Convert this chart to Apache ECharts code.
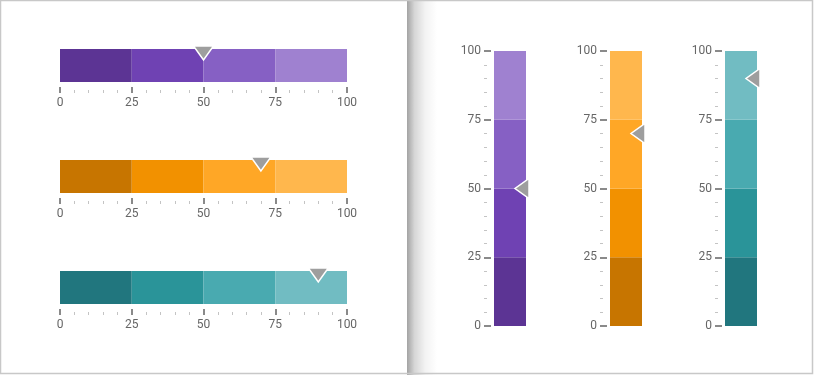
<!DOCTYPE html>
<html>
<head>
<meta charset="utf-8">
<script src="https://cdn.jsdelivr.net/npm/echarts@6/dist/echarts.min.js"></script>
<style>
html,body{margin:0;padding:0;background:#fff;}
#c{width:814px;height:375px;}
</style>
</head>
<body>
<div id="c"></div>
<script>
// ---- data ----
const gaugeNames = ['Purple', 'Orange', 'Teal'];
const bandSizes = [25, 25, 25, 25];          // four coloured ranges, 0-100
const pointerValues = [50, 70, 90];           // marker value of each gauge
const axisMin = 0, axisMax = 100, axisStep = 25;

// ---- styles ----
const palettes = [
  ['#5c3494', '#6f42b3', '#8660c4', '#9f81d0'],
  ['#c77500', '#f29100', '#ffa726', '#ffb74d'],
  ['#21767e', '#2a9499', '#49aab0', '#71bcc2']
];
const hTops = [49, 160, 271];
const vLefts = [494, 610, 725];

const chart = echarts.init(document.getElementById('c'), null, {renderer: 'canvas'});

const grids = [], xAxes = [], yAxes = [], series = [];

function valueAxis(gi, vertical) {
  return {
    type: 'value', gridIndex: gi, min: axisMin, max: axisMax, interval: axisStep,
    position: vertical ? 'left' : 'bottom',
    offset: vertical ? 10 : 11,
    axisLine: {show: false},
    axisTick: {show: true, inside: true, length: vertical ? 7 : 6, lineStyle: {color: '#8a8a8a', width: 2}},
    minorTick: {show: true, splitNumber: 5, length: 3, lineStyle: {color: '#c4c4c4', width: 1}},
    splitLine: {show: false},
    minorSplitLine: {show: false},
    axisLabel: {margin: vertical ? 3 : 4, color: '#666', fontSize: 12, fontFamily: 'Roboto'}
  };
}
function catAxis(gi, name) {
  return {type: 'category', gridIndex: gi, data: [name], show: false};
}

gaugeNames.forEach((name, i) => {
  // horizontal gauge
  const gh = grids.length;
  grids.push({left: 60, width: 287, top: hTops[i], height: 33});
  xAxes.push(valueAxis(gh, false));
  yAxes.push(catAxis(gh, name));
  // vertical gauge
  const gv = grids.length;
  grids.push({left: vLefts[i], width: 32, top: 51, height: 275});
  xAxes.push(catAxis(gv, name));
  yAxes.push(valueAxis(gv, true));

  bandSizes.forEach((s, k) => {
    series.push({
      type: 'bar', xAxisIndex: gh, yAxisIndex: gh, stack: 'h' + i,
      barWidth: '100%', data: [s], silent: true,
      itemStyle: {color: palettes[i][k]}
    });
    series.push({
      type: 'bar', xAxisIndex: gv, yAxisIndex: gv, stack: 'v' + i,
      barWidth: '100%', data: [s], silent: true,
      itemStyle: {color: palettes[i][k]}
    });
  });

  // horizontal pointer (points down)
  series.push({
    type: 'custom', xAxisIndex: gh, yAxisIndex: gh, z: 10,
    data: [[pointerValues[i], 0]],
    renderItem: function (params, api) {
      const p = api.coord([api.value(0), 0]);
      const h = api.size([0, 1])[1];
      const top = p[1] - h / 2;
      return {
        type: 'polygon',
        shape: {points: [[p[0] - 10, top - 3], [p[0] + 10, top - 3], [p[0], top + 11]]},
        style: {fill: '#9e9e9e', stroke: '#ffffff', lineWidth: 1.5}
      };
    }
  });
  // vertical pointer (points left)
  series.push({
    type: 'custom', xAxisIndex: gv, yAxisIndex: gv, z: 10,
    data: [[0, pointerValues[i]]],
    renderItem: function (params, api) {
      const p = api.coord([0, api.value(1)]);
      const w = api.size([1, 0])[0];
      const right = p[0] + w / 2;
      return {
        type: 'polygon',
        shape: {points: [[right + 3, p[1] - 10], [right + 3, p[1] + 10], [right - 11, p[1]]]},
        style: {fill: '#9e9e9e', stroke: '#ffffff', lineWidth: 1.5}
      };
    }
  });
});

chart.setOption({
  animation: false,
  backgroundColor: '#ffffff',
  graphic: [
    {
      type: 'rect', z: -10, silent: true,
      shape: {x: 407, y: 0, width: 30, height: 375},
      style: {
        fill: new echarts.graphic.LinearGradient(0, 0, 1, 0, [
          {offset: 0, color: 'rgba(0,0,0,0.36)'},
          {offset: 0.25, color: 'rgba(0,0,0,0.16)'},
          {offset: 0.6, color: 'rgba(0,0,0,0.05)'},
          {offset: 1, color: 'rgba(0,0,0,0)'}
        ])
      }
    },
    {
      type: 'rect', z: 100, silent: true,
      shape: {x: 0.5, y: 0.5, width: 812, height: 373},
      style: {fill: 'none', stroke: '#c8c8c8', lineWidth: 1.5}
    }
  ],
  grid: grids,
  xAxis: xAxes,
  yAxis: yAxes,
  series: series
});
</script>
</body>
</html>
